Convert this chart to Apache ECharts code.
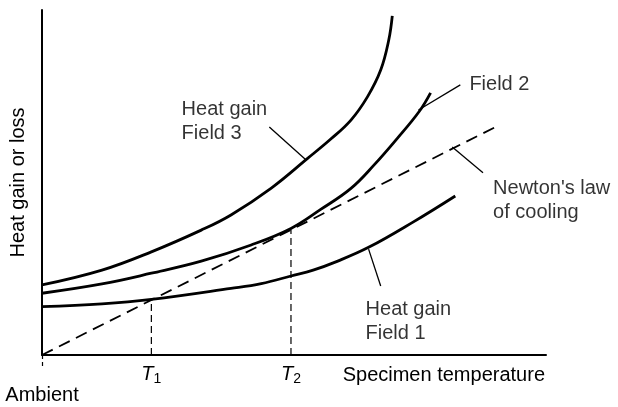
<!DOCTYPE html>
<html><head><meta charset="utf-8">
<script src="https://cdn.jsdelivr.net/npm/echarts@6/dist/echarts.min.js"></script>
<style>html,body{margin:0;padding:0;background:#fff}#c{width:618px;height:407px}</style>
</head><body><div id="c"></div>
<script>
// Data (arbitrary units: temperature 0-100, heat 0-100)
var field1 = [[0,14.0],[11.9,14.8],[21.7,16.1],[37.5,19.3],[43.5,20.7],[49.4,22.9],[53.8,24.6],[58.3,27.0],[64.8,31.2],[73.7,38.6],[82.0,46.1]];
var field2 = [[0,17.9],[11.9,20.6],[21.7,23.7],[31.6,27.2],[41.5,31.9],[49.4,36.7],[55.3,42.2],[61.3,48.3],[65.9,55.1],[70.5,62.8],[74.8,70.5],[77.1,76.0]];
var field3 = [[0,20.3],[11.9,24.6],[21.7,29.9],[31.6,36.2],[37.5,40.6],[45.5,48.4],[52.7,57.0],[57.3,62.6],[61.3,68.1],[64.6,74.9],[67.2,82.6],[68.8,91.3],[69.5,98.3]];
var newton = [[0,0],[90,66.1]];
var T1 = 21.7, T2 = 49.4;
var tickValues = [0, T1, T2];
var tickLabels = ['Ambient', 'T1', 'T2'];
var annotations = [
  {text:'Heat gain\nField 3', at:[27.7,74.5], leader:[[45.1,66.1],[52.4,56.5]]},
  {text:'Field 2', at:[84.8,82.0], leader:[[83.0,78.3],[74.7,71.0]]},
  {text:"Newton's law\nof cooling", at:[89.5,51.6], leader:[[87.5,52.8],[81.4,60.3]]},
  {text:'Heat gain\nField 1', at:[64.2,16.8], leader:[[67.2,20.0],[64.8,30.7]]}
];

var FONT = 'Liberation Sans';
var FS = 20;
var slope = newton[1][1] / newton[1][0];
var chart = echarts.init(document.getElementById('c'), null, {renderer:'canvas'});
function curve(d){return {type:'line', data:d, smooth:0.4, symbol:'none', lineStyle:{color:'#000', width:2.8}, silent:true};}
var series = [curve(field1), curve(field2), curve(field3),
  {type:'line', data:newton, symbol:'none', lineStyle:{color:'#000', width:1.8, type:[12,7]}},
  {type:'line', data:[[T1,0],[T1,slope*T1]], symbol:'none', lineStyle:{color:'#000', width:1.2, type:[7,4]}},
  {type:'line', data:[[T2,0],[T2,slope*T2]], symbol:'none', lineStyle:{color:'#000', width:1.2, type:[7,4]}}
];
annotations.forEach(function(a){
  series.push({type:'line', data:a.leader, symbol:'none', lineStyle:{color:'#000', width:1.3}});
  series.push({type:'scatter', data:[a.at], symbolSize:0, silent:true,
    label:{show:true, position:[0,0], align:'left', verticalAlign:'top', formatter:a.text,
      fontFamily:FONT, fontSize:FS, lineHeight:24, color:'#000'}});
});
chart.setOption({
  animation:false,
  grid:{left:40, top:10, width:506, height:345, containLabel:false},
  xAxis:{type:'value', min:0, max:100, splitLine:{show:false},
    axisLine:{lineStyle:{color:'#000', width:2}},
    axisTick:{show:true, customValues:[0], length:14, inside:false, lineStyle:{color:'#000', width:1.2, type:[4,3]}},
    axisLabel:{customValues:tickValues, margin:8, color:'#000', fontFamily:FONT,
      formatter:function(v){
        var i = tickValues.indexOf(v);
        var s = tickLabels[i];
        if (s === 'Ambient') return '\n{a|Ambient}';
        return '{t|T}{s|' + s.slice(1) + '}';
      },
      rich:{t:{fontSize:FS, fontStyle:'italic', fontFamily:FONT, color:'#000'},
            s:{fontSize:14, fontFamily:FONT, color:'#000', padding:[9,0,0,0]},
            a:{fontSize:FS, fontFamily:FONT, color:'#000', padding:[10,0,0,0]}}},
    name:'Specimen temperature', nameLocation:'end', nameGap:-1,
    nameTextStyle:{align:'right', verticalAlign:'top', padding:[10,0,0,0], fontFamily:FONT, fontSize:FS, color:'#000'}
  },
  yAxis:{type:'value', min:0, max:100, splitLine:{show:false}, axisTick:{show:false}, axisLabel:{show:false},
    axisLine:{show:true, lineStyle:{color:'#000', width:2}},
    name:'Heat gain or loss', nameLocation:'middle', nameRotate:90, nameGap:14,
    nameTextStyle:{fontFamily:FONT, fontSize:FS, color:'#000'}},
  series:series
});
</script></body></html>
